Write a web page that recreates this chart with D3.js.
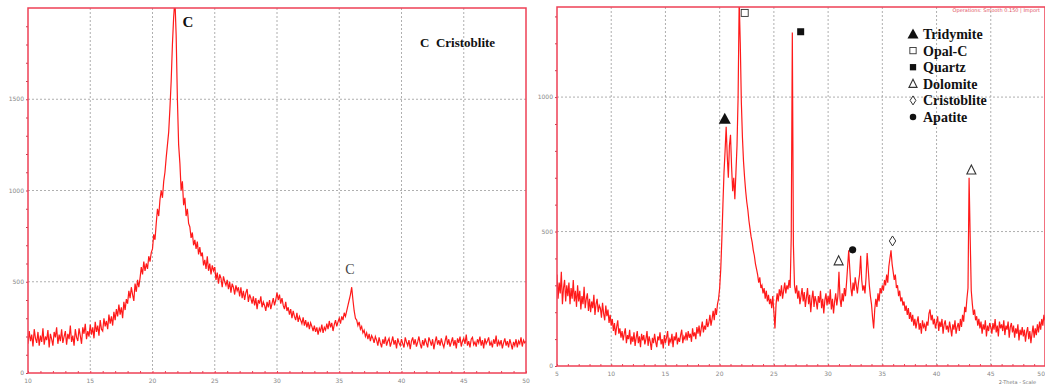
<!DOCTYPE html>
<html>
<head>
<meta charset="utf-8">
<script src="https://cdn.jsdelivr.net/npm/d3@7"></script>
<style>
  body { margin: 0; background: #fff; }
  svg { display: block; }
</style>
</head>
<body>
<svg id="chart" width="1045" height="388"></svg>
<script>
// scan 1 (left): 10-50 deg 2-theta, step 0.1, one row per degree
const leftStart = 10;
const leftStep = 0.1;
const leftCounts = [
  160, 230, 175, 210, 145, 240, 190, 165, 225, 150,
  205, 170, 245, 155, 200, 180, 235, 140, 215, 185,
  150, 225, 195, 250, 160, 210, 175, 240, 165, 200,
  230, 155, 215, 185, 260, 170, 205, 150, 240, 195,
  175, 245, 205, 160, 250, 215, 270, 185, 230, 200,
  265, 210, 250, 190, 280, 225, 260, 205, 290, 240,
  230, 300, 255, 285, 240, 320, 270, 310, 260, 335,
  290, 350, 310, 375, 320, 360, 300, 390, 345, 405,
  380, 450, 410, 470, 430, 395, 490, 445, 510, 470,
  520, 580, 540, 610, 560, 600, 570, 640, 610, 660,
  680, 760, 730, 820, 900, 860, 950, 1000, 960, 1050,
  1100, 1180, 1250, 1320, 1450, 1600, 1800, 1950, 2050, 1850,
  1500, 1250, 1150, 1000, 1050, 920, 960, 860, 900, 820,
  800, 740, 770, 700, 730, 680, 720, 650, 690, 640,
  660, 590, 620, 570, 640, 560, 600, 540, 590, 560,
  580, 510, 550, 490, 540, 520, 470, 530, 500, 480,
  510, 460, 500, 440, 490, 470, 430, 480, 450, 470,
  420, 470, 410, 450, 400, 440, 460, 390, 430, 410,
  380, 420, 370, 410, 350, 400, 380, 420, 360, 390,
  370, 340, 390, 360, 400, 350, 380, 410, 370, 400,
  440, 400, 430, 380, 410, 370, 350, 390, 340, 360,
  320, 350, 300, 340, 310, 290, 330, 280, 310, 290,
  270, 305, 260, 290, 250, 280, 240, 275, 255, 230,
  260, 225, 250, 210, 245, 230, 265, 220, 250, 235,
  270, 240, 285, 250, 275, 230, 265, 290, 255, 280,
  300, 270, 310, 290, 330, 310, 340, 370, 400, 430,
  470, 400, 340, 300, 290, 260, 280, 240, 255, 220,
  235, 200, 220, 185, 215, 175, 205, 190, 165, 200,
  180, 150, 195, 165, 140, 185, 160, 200, 150, 175,
  190, 145, 170, 200, 155, 180, 135, 190, 165, 150,
  185, 160, 140, 195, 170, 150, 180, 130, 175, 195,
  155, 185, 145, 170, 200, 160, 135, 180, 150, 190,
  165, 140, 195, 175, 150, 185, 130, 170, 200, 155,
  180, 150, 190, 160, 140, 175, 205, 155, 185, 145,
  170, 195, 150, 180, 135, 190, 165, 200, 145, 175,
  190, 160, 210, 150, 175, 140, 185, 195, 155, 170,
  145, 185, 165, 200, 150, 180, 135, 190, 160, 175,
  195, 150, 170, 140, 185, 160, 205, 145, 175, 155,
  180, 135, 165, 190, 150, 175, 140, 185, 160, 130,
  170, 150, 185, 140, 175, 160, 195, 145, 180, 165,
  175
];

// scan 2 (right): 5-50 deg 2-theta, step 0.1, one row per degree
const rightStart = 5;
const rightStep = 0.1;
const rightCounts = [
  340, 250, 310, 270, 350, 230, 290, 320, 240, 300,
  260, 310, 230, 290, 250, 320, 240, 280, 220, 300,
  240, 280, 210, 260, 230, 295, 215, 250, 270, 205,
  250, 200, 240, 215, 265, 190, 230, 250, 200, 225,
  215, 180, 235, 195, 170, 225, 185, 210, 160, 190,
  150, 175, 130, 160, 115, 145, 170, 120, 140, 105,
  130, 95, 120, 140, 85, 115, 100, 135, 80, 110,
  90, 125, 75, 105, 130, 85, 110, 70, 120, 95,
  115, 80, 100, 130, 75, 110, 90, 60, 105, 85,
  120, 90, 70, 110, 95, 125, 80, 100, 65, 115,
  85, 105, 130, 75, 100, 90, 120, 70, 110, 95,
  125, 80, 105, 90, 115, 135, 85, 110, 100, 125,
  95, 130, 105, 120, 90, 140, 110, 125, 100, 145,
  120, 150, 110, 140, 165, 125, 150, 135, 175, 145,
  160, 190, 150, 175, 205, 170, 215, 190, 230, 250,
  290, 360, 470, 600, 720, 800, 890, 780, 700, 820,
  860, 740, 650, 700, 620, 720, 820, 1000, 1360, 1200,
  980, 850, 760, 700, 650, 610, 580, 540, 510, 480,
  460, 430, 410, 380, 360, 340, 310, 330, 290, 300,
  270, 290, 250, 280, 240, 265, 230, 250, 215, 260,
  200, 140, 230, 270, 240, 285, 260, 300, 250, 280,
  310, 270, 300, 285, 320, 290, 480, 1240, 450, 300,
  270, 300, 250, 280, 230, 260, 290, 240, 275, 220,
  255, 290, 230, 265, 200, 250, 280, 220, 260, 240,
  210, 260, 235, 280, 215, 250, 195, 245, 270, 225,
  260, 230, 285, 210, 250, 195, 240, 270, 225, 260,
  350, 250, 220, 270, 240, 290, 260, 310, 370, 430,
  360, 290, 260, 310, 280, 330, 300, 270, 310, 340,
  410, 320, 280, 300, 270, 330, 420, 360, 300, 260,
  230, 180, 140, 210, 250, 220, 270, 240, 290, 270,
  300, 280, 320, 300, 340, 310, 370, 400, 430, 380,
  350, 320, 340, 290, 300, 260, 280, 240, 255, 225,
  240, 205, 225, 190, 215, 175, 200, 165, 190, 150,
  175, 140, 165, 185, 135, 160, 120, 170, 145, 155,
  130, 165, 150, 195, 210, 170, 190, 155, 175, 140,
  160, 185, 130, 165, 145, 175, 120, 155, 170, 135,
  150, 125, 165, 140, 110, 155, 135, 170, 120, 145,
  160, 130, 175, 145, 190, 165, 220, 200, 250, 290,
  700, 480, 280, 230, 190, 210, 170, 185, 150, 175,
  140, 165, 120, 155, 135, 170, 110, 150, 130, 160,
  145, 120, 160, 135, 175, 125, 150, 110, 165, 140,
  155, 130, 170, 115, 150, 135, 165, 105, 145, 160,
  125, 150, 105, 140, 120, 155, 95, 135, 115, 145,
  110, 135, 90, 125, 145, 100, 130, 85, 120, 150,
  105, 140, 115, 155, 125, 165, 135, 175, 150, 190,
  170
];

const leftXTicks = [10, 15, 20, 25, 30, 35, 40, 45, 50];
const leftYTicks = [0, 500, 1000, 1500];
const rightXTicks = [5, 10, 15, 20, 25, 30, 35, 40, 45, 50];
const rightYTicks = [0, 500, 1000];

// peak labels: [angle, counts, symbol]
const leftPeakLabels = [
  [22.85, 1896, 'C'],
  [35.86, 542, 'C'],
];
const rightPeakLabels = [
  [20.47, 919, 'tri-filled'],
  [22.31, 1313, 'square-open'],
  [27.47, 1243, 'square-filled'],
  [30.97, 391, 'tri-open'],
  [32.26, 432, 'circle'],
  [35.94, 465, 'diamond'],
  [43.21, 729, 'tri-open'],
];
const rightLegend = [
  ['tri-filled', 'Tridymite'],
  ['square-open', 'Opal-C'],
  ['square-filled', 'Quartz'],
  ['tri-open', 'Dolomite'],
  ['diamond', 'Cristoblite'],
  ['circle', 'Apatite'],
];

const svg = d3.select('#chart');
const serif = "'Liberation Serif', 'Times New Roman', serif";
const red = '#ff1a1a';
const frameRed = '#ee4055';

function drawPanel(opt) {
  const x = d3.scaleLinear().domain(opt.xDomain).range([opt.left, opt.right]);
  const y = d3.scaleLinear().domain(opt.yDomain).range([opt.bottom, opt.top]);
  const g = svg.append('g');

  const clipId = 'clip-' + opt.name;
  svg
    .append('defs')
    .append('clipPath')
    .attr('id', clipId)
    .append('rect')
    .attr('x', opt.left)
    .attr('y', opt.top)
    .attr('width', opt.right - opt.left)
    .attr('height', opt.bottom - opt.top);

  // grid
  g.selectAll('.vgrid')
    .data(opt.xTicks.slice(1, -1))
    .enter()
    .append('line')
    .attr('x1', (d) => x(d))
    .attr('x2', (d) => x(d))
    .attr('y1', opt.top)
    .attr('y2', opt.bottom)
    .style('stroke', '#9a9a9a')
    .style('stroke-width', 0.8)
    .style('stroke-dasharray', '2,2');
  g.selectAll('.hgrid')
    .data(opt.yTicks.slice(1))
    .enter()
    .append('line')
    .attr('x1', opt.left)
    .attr('x2', opt.right)
    .attr('y1', (d) => y(d))
    .attr('y2', (d) => y(d))
    .style('stroke', '#9a9a9a')
    .style('stroke-width', 0.8)
    .style('stroke-dasharray', '2,2');

  // the scan
  const line = d3
    .line()
    .x((d, i) => x(opt.start + i * opt.step))
    .y((d) => y(d));
  g.append('path')
    .datum(opt.counts)
    .attr('clip-path', 'url(#' + clipId + ')')
    .attr('d', line)
    .style('fill', 'none')
    .style('stroke', red)
    .style('stroke-width', 1.2)
    .style('stroke-linejoin', 'miter');

  // minor ticks
  const xAxis = d3
    .axisBottom(x)
    .tickValues(d3.range(opt.xDomain[0], opt.xDomain[1] + 0.01, 1))
    .tickSize(-2)
    .tickFormat('');
  g.append('g')
    .attr('transform', `translate(0,${opt.bottom})`)
    .call(xAxis)
    .call((a) => a.select('.domain').remove())
    .selectAll('line')
    .style('stroke', frameRed);
  const yAxis = d3
    .axisLeft(y)
    .tickValues(d3.range(0, opt.yDomain[1], 100))
    .tickSize(2)
    .tickFormat('');
  g.append('g')
    .attr('transform', `translate(${opt.left},0)`)
    .call(yAxis)
    .call((a) => a.select('.domain').remove())
    .selectAll('line')
    .style('stroke', '#c04050');

  // frame
  g.append('rect')
    .attr('x', opt.left)
    .attr('y', opt.top)
    .attr('width', opt.right - opt.left)
    .attr('height', opt.bottom - opt.top)
    .style('fill', 'none')
    .style('stroke', frameRed)
    .style('stroke-width', 1.5);

  // tick labels
  g.selectAll('.xlab')
    .data(opt.xTicks)
    .enter()
    .append('text')
    .attr('x', (d) => x(d))
    .attr('y', opt.bottom + 10)
    .attr('text-anchor', (d) => (x(d) > 1040 ? 'end' : 'middle'))
    .attr('font-family', 'DejaVu Sans')
    .attr('font-size', '6px')
    .attr('fill', '#888')
    .text((d) => d);
  g.selectAll('.ylab')
    .data(opt.yTicks)
    .enter()
    .append('text')
    .attr('x', opt.left - 4)
    .attr('y', (d) => y(d) + 2)
    .attr('text-anchor', 'end')
    .attr('font-family', 'DejaVu Sans')
    .attr('font-size', '6px')
    .attr('fill', '#888')
    .text((d) => d);

  return { x, y, g };
}

function symbol(g, kind, cx, cy, s) {
  if (kind === 'tri-filled') {
    g.append('path')
      .attr('d', `M${cx},${cy - s * 0.55}L${cx + s * 0.55},${cy + s * 0.45}L${cx - s * 0.55},${cy + s * 0.45}Z`)
      .style('fill', '#111');
  } else if (kind === 'tri-open') {
    g.append('path')
      .attr('d', `M${cx},${cy - s * 0.5}L${cx + s * 0.45},${cy + s * 0.4}L${cx - s * 0.45},${cy + s * 0.4}Z`)
      .style('fill', 'none')
      .style('stroke', '#333')
      .style('stroke-width', 1.1);
  } else if (kind === 'square-open') {
    g.append('rect')
      .attr('x', cx - s * 0.35)
      .attr('y', cy - s * 0.35)
      .attr('width', s * 0.7)
      .attr('height', s * 0.7)
      .style('fill', '#fff')
      .style('stroke', '#333')
      .style('stroke-width', 0.9);
  } else if (kind === 'square-filled') {
    g.append('rect')
      .attr('x', cx - s * 0.35)
      .attr('y', cy - s * 0.35)
      .attr('width', s * 0.7)
      .attr('height', s * 0.7)
      .style('fill', '#111');
  } else if (kind === 'circle') {
    g.append('circle')
      .attr('cx', cx)
      .attr('cy', cy)
      .attr('r', s * 0.36)
      .style('fill', '#111');
  } else if (kind === 'diamond') {
    g.append('path')
      .attr('d', `M${cx},${cy - s * 0.5}L${cx + s * 0.32},${cy}L${cx},${cy + s * 0.5}L${cx - s * 0.32},${cy}Z`)
      .style('fill', 'none')
      .style('stroke', '#333')
      .style('stroke-width', 1);
  }
}

// Left panel
const L = drawPanel({
  name: 'left',
  left: 28,
  right: 526,
  top: 8,
  bottom: 373,
  xDomain: [10, 50],
  yDomain: [0, 2000],
  xTicks: leftXTicks,
  yTicks: leftYTicks,
  start: leftStart,
  step: leftStep,
  counts: leftCounts,
});

L.g.selectAll('.peak')
  .data(leftPeakLabels)
  .enter()
  .append('text')
  .attr('x', (d) => L.x(d[0]))
  .attr('y', (d) => L.y(d[1]))
  .attr('text-anchor', 'middle')
  .attr('font-family', serif)
  .attr('font-weight', (d, i) => (i === 0 ? 'bold' : 'normal'))
  .attr('font-size', (d, i) => (i === 0 ? '15px' : '14px'))
  .attr('fill', (d, i) => (i === 0 ? '#111' : '#444'))
  .text((d) => d[2]);

L.g.append('text')
  .attr('x', 420)
  .attr('y', 47)
  .attr('font-family', serif)
  .attr('font-weight', 'bold')
  .attr('font-size', '13px')
  .attr('fill', '#111')
  .attr('xml:space', 'preserve')
  .text('C  Cristoblite');

// Right panel
const R = drawPanel({
  name: 'right',
  left: 557,
  right: 1045,
  top: 7,
  bottom: 366,
  xDomain: [5, 50],
  yDomain: [0, 1335],
  xTicks: rightXTicks,
  yTicks: rightYTicks,
  start: rightStart,
  step: rightStep,
  counts: rightCounts,
});

rightPeakLabels.forEach((d) => {
  symbol(R.g, d[2], R.x(d[0]), R.y(d[1]), d[2] === 'tri-filled' ? 11 : 10);
});

const legend = R.g.append('g').attr('transform', 'translate(913,34)');
rightLegend.forEach((d, i) => {
  symbol(legend, d[0], 0, i * 16.6, d[0] === 'tri-filled' ? 10 : 9);
  legend
    .append('text')
    .attr('x', 10)
    .attr('y', i * 16.6 + 5)
    .attr('font-family', serif)
    .attr('font-weight', 'bold')
    .attr('font-size', '14px')
    .attr('fill', '#111')
    .text(d[1]);
});

// instrument captions
R.g.append('text')
  .attr('x', 1040)
  .attr('y', 12)
  .attr('text-anchor', 'end')
  .attr('font-family', 'DejaVu Sans')
  .attr('font-size', '5px')
  .attr('fill', '#e05060')
  .text('Operations: Smooth 0.150 | Import');
R.g.append('text')
  .attr('x', 1036)
  .attr('y', 384)
  .attr('text-anchor', 'end')
  .attr('font-family', 'DejaVu Sans')
  .attr('font-size', '5px')
  .attr('fill', '#777')
  .text('2-Theta - Scale');
</script>
</body>
</html>
